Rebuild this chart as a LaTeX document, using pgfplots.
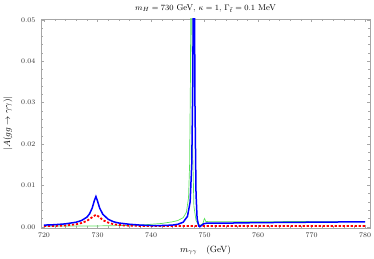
\documentclass[border=0pt]{standalone}
\usepackage{pgfplots}
\pgfplotsset{compat=1.18}
\definecolor{mgreen}{RGB}{90,225,90}
\begin{document}
\begin{tikzpicture}
\begin{axis}[
  name=ax,
  scale only axis, width=329pt, height=209pt,
  xmin=719.44, xmax=780.9, ymin=-0.0003, ymax=0.0502,
  xtick={720,730,...,780}, minor x tick num=4,
  ytick={0,0.01,...,0.05}, minor y tick num=4,
  tick align=inside,
  axis line style={gray!70},
  major tick length=3pt, minor tick length=1.6pt,
  every tick/.style={gray!70},
  yticklabel style={xshift=-2pt, /pgf/number format/fixed, /pgf/number format/fixed zerofill, /pgf/number format/precision=2},
  scaled y ticks=false,
  xticklabel style={/pgf/number format/1000 sep={}, yshift=-1.5pt},
  tick label style={font=\fontsize{7.5}{8}\selectfont, text=black!80},
  every axis x label/.style={at={(axis description cs:0.5,0)}, yshift=-22pt, anchor=center, font=\fontsize{9}{10}\selectfont},
  every axis y label/.style={at={(axis description cs:0,0.5)}, xshift=-33pt, rotate=90, anchor=center, font=\fontsize{9}{10}\selectfont},
  every axis title/.style={at={(axis description cs:0.5,1)}, yshift=10.5pt, anchor=center, font=\fontsize{8.5}{9}\selectfont},
  title={$m_H=730$ GeV, $\kappa=1$, $\Gamma_{\tilde t}=0.1$ MeV},
  xlabel={$m_{\gamma\gamma}$\quad(GeV)},
  ylabel={$|A(gg\to\gamma\gamma)|$},
  clip=true,
]
\addplot[mgreen, line width=0.7pt] coordinates {
(720,0.0002)(725,0.0002)(730,0.0002)(735,0.0003)(738,0.0004)(740,0.0006)(742,0.0008)
(744,0.0012)(745,0.0015)(746,0.0022)(746.6,0.0035)(747.0,0.007)(747.2,0.015)
(747.35,0.035)(747.45,0.06)(747.6,0.06)(747.75,0.02)(748.0,0.005)(748.4,0.0015)
(748.8,0.0006)(749.3,0.0004)(749.7,0.0008)(749.9,0.0018)(750.0,0.0020)(750.2,0.0013)
(751,0.0012)(760,0.0012)(770,0.0013)(780,0.0013)
};
\addplot[red, line width=1.8pt, dash pattern=on 2.2pt off 1.8pt] coordinates {
(720,0.0002)(722,0.0002)(724,0.0003)(726,0.0006)(727,0.0009)(728,0.0014)(729,0.0023)
(729.7,0.0029)(730.3,0.0024)(731,0.0016)(732,0.0010)(733,0.0006)(735,0.0003)
(738,0.0002)(750,0.0002)(780,0.0002)
};
\addplot[blue, line width=1.5pt] coordinates {
(720,0.0004)(722,0.0005)(724,0.0007)(726,0.0011)(727,0.0015)(728,0.0023)(728.5,0.0031)
(729,0.0045)(729.4,0.0063)(729.7,0.0073)(730.0,0.0062)(730.4,0.0045)(731,0.0030)
(732,0.0018)(733,0.0012)(734,0.0009)(736,0.0006)(738,0.0004)(740,0.0003)(742,0.0003)
(744,0.0004)(745,0.0006)(746,0.0011)(746.8,0.0025)(747.3,0.006)(747.6,0.015)
(747.8,0.035)(747.9,0.06)(748.1,0.06)(748.2,0.03)(748.4,0.008)(748.6,0.002)
(748.9,0.0002)(749.1,0.0000)(749.4,0.0003)(749.8,0.0007)(750.5,0.0009)
(755,0.0009)(760,0.0010)(770,0.0011)(780,0.0012)
};
\end{axis}
\pgfresetboundingbox
\path[use as bounding box] ([xshift=-41pt,yshift=-31pt]ax.south west) rectangle ([xshift=4pt,yshift=19pt]ax.north east);
\end{tikzpicture}
\end{document}
